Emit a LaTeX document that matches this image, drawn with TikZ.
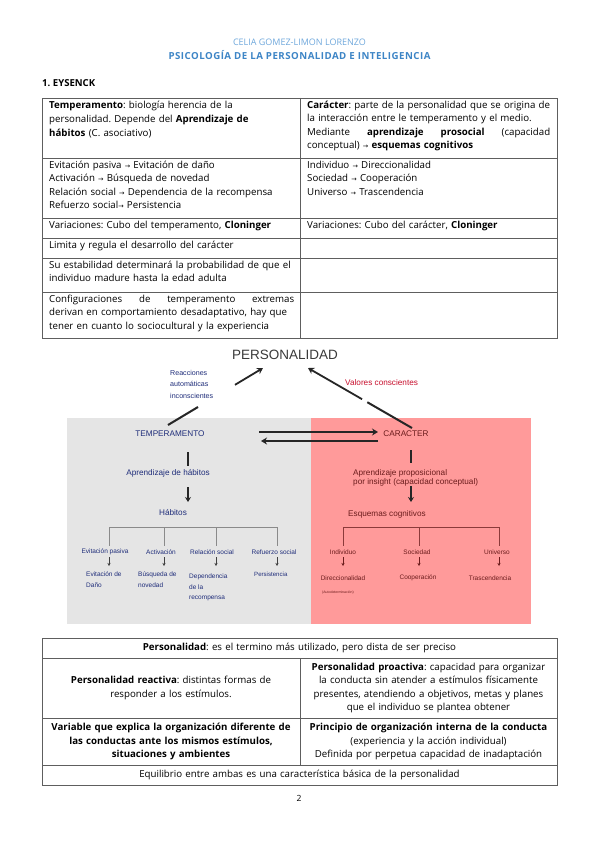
\documentclass[tikz,border=0pt]{standalone}
\usepackage{fontspec}
\usepackage{graphicx}
\setmainfont{Open Sans}
\newfontfamily\diagf{Liberation Sans}
\newfontfamily\symf{DejaVu Sans}
\usetikzlibrary{arrows.meta}
\definecolor{tblline}{HTML}{5E5E5E}
\definecolor{namec}{HTML}{6FA8DC}
\definecolor{titlec}{HTML}{3D85C6}
\definecolor{grayboxc}{HTML}{E5E5E5}
\definecolor{redboxc}{HTML}{FF9A9A}
\definecolor{navyc}{HTML}{1F2D7A}
\definecolor{redtxt}{HTML}{6B1C1C}
\definecolor{crimsonc}{HTML}{C8102E}
\definecolor{persc}{HTML}{3A3A3A}
\definecolor{treeg}{HTML}{8A8A8A}
\definecolor{treer}{HTML}{8B3A3A}
\newcommand\rarrow{{\symf\fontsize{6.5}{7}\selectfont →}}
\newcommand\bodyfs{\fontsize{9.7}{13.3}\selectfont}
\frenchspacing
\begin{document}
\begin{tikzpicture}[x=1pt,y=-1pt,
  tbl/.style={draw=tblline,line width=0.8pt},
  cellL/.style={anchor=north west,inner sep=0pt,text width=252pt,align=left,font=\bodyfs},
  cellC/.style={inner sep=0pt,text width=252pt,align=center,font=\bodyfs},
  dsmall/.style={inner sep=0pt,font=\diagf\fontsize{6.5}{10.5}\selectfont},
  dmid/.style={inner sep=0pt,font=\diagf\fontsize{8.2}{9}\selectfont},
  thickl/.style={line width=2pt,black!85},
  thickarr/.style={line width=1.8pt,black!85,-{Stealth[length=6pt,width=7pt]}},
  smallarrG/.style={line width=0.6pt,black!75,-{Stealth[length=3pt,width=3pt]}},
  smallarrR/.style={line width=0.6pt,redtxt,-{Stealth[length=3pt,width=3pt]}},
  treeG/.style={line width=0.6pt,treeg},
  treeR/.style={line width=0.6pt,treer}]
\useasboundingbox[fill=white] (0,0) rectangle (599,848);

% header
\node[font=\fontsize{9}{10}\selectfont,text=namec] (name) at (299.5,42) {CELIA GOMEZ-LIMON LORENZO};
\node[font=\bfseries\fontsize{9.7}{10}\selectfont\addfontfeature{LetterSpace=5},text=titlec] (title) at (299.5,55) {PSICOLOGÍA DE LA PERSONALIDAD E INTELIGENCIA};
\node[anchor=west,inner sep=0pt,font=\bfseries\fontsize{9.6}{10}\selectfont] (sec) at (42,83) {1. EYSENCK};

% table 1
\draw[tbl] (42,98) rectangle (557,338);
\draw[tbl] (300,98) -- (300,338);
\foreach \yy in {158,218,238,258,292} \draw[tbl] (42,\yy) -- (557,\yy);

\node[cellL,font=\fontsize{9.7}{14.3}\selectfont] (a1) at (49,100.5) {\textbf{Temperamento}: biología herencia de la\\ personalidad. Depende del \textbf{Aprendizaje de}\\ \textbf{hábitos} (C. asociativo)};
\node[cellL] (a2) at (49,161) {Evitación pasiva \rarrow{} Evitación de daño\\ Activación \rarrow{} Búsqueda de novedad\\ Relación social \rarrow{} Dependencia de la recompensa\\ Refuerzo social\rarrow{} Persistencia};
\node[cellL] (a3) at (49,221) {Variaciones: Cubo del temperamento, \textbf{Cloninger}};
\node[cellL] (a4) at (49,241) {Limita y regula el desarrollo del carácter};
\node[cellL] (a5) at (49,261) {Su estabilidad determinará la probabilidad de que el\\ individuo madure hasta la edad adulta};
\node[cellL] (a6) at (49,295) {\makebox[245pt]{Configuraciones\hfill de\hfill temperamento\hfill extremas}\\ derivan en comportamiento desadaptativo, hay que\\ tener en cuanto lo sociocultural y la experiencia};

\node[cellL] (b1) at (307,101) {\textbf{Carácter}: parte de la personalidad que se origina de\\ la interacción entre le temperamento y el medio.\\ \makebox[243pt]{Mediante\hfill\textbf{aprendizaje}\hfill\textbf{prosocial}\hfill(capacidad}\\ conceptual) \rarrow{} \textbf{esquemas cognitivos}};
\node[cellL] (b2) at (307,161) {Individuo \rarrow{} Direccionalidad\\ Sociedad \rarrow{} Cooperación\\ Universo \rarrow{} Trascendencia};
\node[cellL] (b3) at (307,221) {Variaciones: Cubo del carácter, \textbf{Cloninger}};

% diagram
\fill[grayboxc] (67,418) rectangle (310.5,624);
\fill[redboxc] (310.5,418) rectangle (531,624);

\node[inner sep=0pt,font=\diagf\fontsize{13.5}{14}\selectfont,text=persc] (pers) at (285,355) {PERSONALIDAD};
\node[dsmall,text=navyc,anchor=north west,align=left,font=\diagf\fontsize{7.1}{11.5}\selectfont] (reac) at (170,370) {Reacciones\\automáticas\\inconscientes};
\node[dmid,text=crimsonc,anchor=west] (valo) at (345,383) {Valores conscientes};
\node[dmid,text=navyc] (temp) at (170,434) {TEMPERAMENTO};
\node[dmid,text=redtxt] (car) at (406,434) {CARACTER};

\coordinate (tA) at (168,425);
\coordinate (pA) at (263,368);
\path (tA) -- (pA) coordinate[pos=0.316] (g1) coordinate[pos=0.705] (g2);
\draw[thickl] (tA) -- (g1);
\draw[thickarr] (g2) -- (pA);
\coordinate (cA) at (412,428);
\coordinate (pB) at (308,368);
\path (cA) -- (pB) coordinate[pos=0.43] (g3) coordinate[pos=0.48] (g4);
\draw[thickl] (cA) -- (g3);
\draw[thickarr] (g4) -- (pB);

\coordinate (h1a) at (259,432);
\coordinate (h1b) at (378,432);
\coordinate (h2a) at (378,441);
\coordinate (h2b) at (261,441);
\draw[thickarr,line width=1.6pt] (h1a) -- (h1b);
\draw[thickarr,line width=1.6pt] (h2a) -- (h2b);

% gray internals
\node[dmid,text=navyc] (apr) at (168,473) {Aprendizaje de hábitos};
\node[dmid,text=navyc] (hab) at (173,513) {Hábitos};
\coordinate (tb1) at (188,452); \coordinate (tb2) at (188,466);
\draw[thickl] (tb1) -- (tb2);
\coordinate (ta1) at (188,487); \coordinate (ta2) at (188,502);
\draw[thickarr,line width=1.6pt,-{Stealth[length=5pt,width=6pt]}] (ta1) -- (ta2);

\coordinate (gL) at (109,527); \coordinate (gR) at (277,527);
\draw[treeG] (gL) -- (gR);
\foreach \xx/\nm in {109/ga,164/gb,216/gc,277/gd} {
  \coordinate (\nm t) at (\xx,527);
  \coordinate (\nm b) at (\xx,546);
  \draw[treeG] (\nm t) -- (\nm b);
  \coordinate (\nm s) at (\xx,557);
  \coordinate (\nm e) at (\xx,566);
  \draw[smallarrG] (\nm s) -- (\nm e);
}
\node[dsmall,text=navyc] (l1) at (105,552) {Evitación pasiva};
\node[dsmall,text=navyc] (l2) at (161,552) {Activación};
\node[dsmall,text=navyc] (l3) at (212,552) {Relación social};
\node[dsmall,text=navyc] (l4) at (274,552) {Refuerzo social};
\node[dsmall,text=navyc,anchor=north west,align=left] (r1) at (86,572) {Evitación de\\Daño};
\node[dsmall,text=navyc,anchor=north west,align=left] (r2) at (138,572) {Búsqueda de\\novedad};
\node[dsmall,text=navyc,anchor=north west,align=left] (r3) at (189,574) {Dependencia\\de la\\recompensa};
\node[dsmall,text=navyc,anchor=north west,align=left,font=\diagf\fontsize{6.1}{10}\selectfont] (r4) at (254,572) {Persistencia};

% red internals
\coordinate (cb1) at (411,450); \coordinate (cb2) at (411,463);
\draw[thickl] (cb1) -- (cb2);
\node[dmid,text=redtxt,anchor=north west,align=left,font=\diagf\fontsize{8.2}{9.5}\selectfont] (apr2) at (353,469) {Aprendizaje proposicional\\por insight (capacidad conceptual)};
\coordinate (ca1) at (411,486); \coordinate (ca2) at (411,502);
\draw[thickarr,line width=1.6pt,-{Stealth[length=5pt,width=6pt]}] (ca1) -- (ca2);
\node[dmid,text=redtxt,anchor=west] (esq) at (348,514) {Esquemas cognitivos};
\coordinate (rL) at (343,527); \coordinate (rR) at (499,527);
\draw[treeR] (rL) -- (rR);
\foreach \xx/\nm in {343/ra,419/rb,499/rc} {
  \coordinate (\nm t) at (\xx,527);
  \coordinate (\nm b) at (\xx,546);
  \draw[treeR] (\nm t) -- (\nm b);
  \coordinate (\nm s) at (\xx,557);
  \coordinate (\nm e) at (\xx,566);
  \draw[smallarrR] (\nm s) -- (\nm e);
}
\node[dsmall,text=redtxt] (m1) at (343,552) {Individuo};
\node[dsmall,text=redtxt] (m2) at (417,552) {Sociedad};
\node[dsmall,text=redtxt] (m3) at (497,552) {Universo};
\node[dsmall,text=redtxt] (n1) at (343,578) {Direccionalidad};
\node[dsmall,text=redtxt] (n2) at (418,578) {Cooperación};
\node[dsmall,text=redtxt] (n3) at (490,578) {Trascendencia};
\node[inner sep=0pt,text=redtxt,anchor=west,font=\diagf\fontsize{3.5}{4}\selectfont] (auto) at (322,593) {(Autodeterminación)};

% table 2
\draw[tbl] (42,638) rectangle (557,785);
\foreach \yy in {658,718,765} \draw[tbl] (42,\yy) -- (557,\yy);
\draw[tbl] (300,658) -- (300,765);
\node[cellC,text width=500pt] (c1) at (299.5,648) {\textbf{Personalidad}: es el termino más utilizado, pero dista de ser preciso};
\node[cellC] (c2) at (171,688) {\textbf{Personalidad reactiva}: distintas formas de\\ responder a los estímulos.};
\node[cellC] (c3) at (428.5,688) {\textbf{Personalidad proactiva}: capacidad para organizar\\ la conducta sin atender a estímulos físicamente\\ presentes, atendiendo a objetivos, metas y planes\\ que el individuo se plantea obtener};
\node[cellC] (c4) at (171,741.5) {\textbf{Variable que explica la organización diferente de}\\ \textbf{las conductas ante los mismos estímulos,}\\ \textbf{situaciones y ambientes}};
\node[cellC] (c5) at (428.5,741.5) {\textbf{Principio de organización interna de la conducta}\\ (experiencia y la acción individual)\\ Definida por perpetua capacidad de inadaptación};
\node[cellC,text width=500pt] (c6) at (299.5,775) {Equilibrio entre ambas es una característica básica de la personalidad};

\node[inner sep=0pt,font=\fontsize{8.5}{10}\selectfont] (pg) at (299,798) {2};
\end{tikzpicture}
\end{document}
